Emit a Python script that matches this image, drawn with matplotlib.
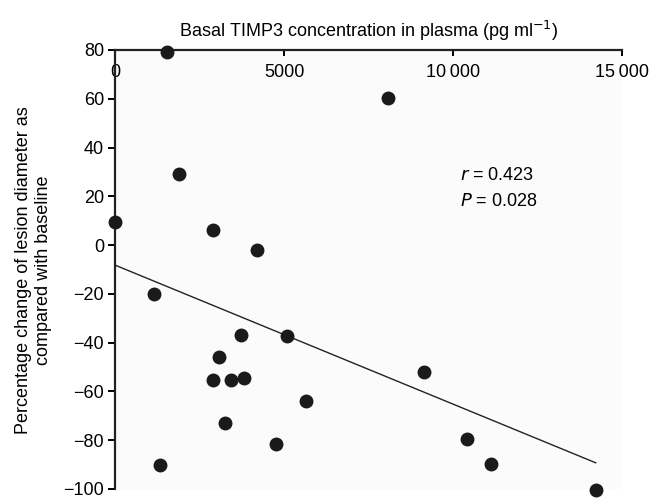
import numpy as np
import matplotlib
matplotlib.use("Agg")
import matplotlib.pyplot as plt

# basal TIMP3 (pg/ml) vs % change of lesion diameter
timp3 = [0, 1550, 1880, 2900, 4200, 1150, 1320, 3740, 5090, 3070,
         2900, 3420, 3820, 3250, 4770, 5660, 8080, 9140, 10400, 11120, 14220]
change = [9.5, 79, 29, 6, -2, -20, -90, -36.7, -37.4, -45.9,
          -55.3, -55.3, -54.6, -72.9, -81.7, -63.8, 60.3, -51.9, -79.4, -89.6, -100.4]

# regression line
fit_intercept = -8.2
fit_slope = -0.00570

x_ticks = [0, 5000, 10000, 15000]
x_ticklabels = ['0', '5000', '10\u2009000', '15\u2009000']
y_ticks = [80, 60, 40, 20, 0, -20, -40, -60, -80, -100]
y_ticklabels = ['80', '60', '40', '20', '0', '\u221220', '\u221240', '\u221260', '\u221280', '\u2212100']

plt.rcParams['font.family'] = ['Liberation Sans', 'DejaVu Sans']
fs = 13

fig = plt.figure(figsize=(6.51, 4.98), dpi=100)
ax = fig.add_axes([0.1767, 0.0181, 0.7788, 0.8815])
ax.set_facecolor('#fbfbfb')

ax.plot(timp3, change, 'o', color='#1a1a1a', markersize=9, clip_on=False, zorder=3)

xf = np.array([0, max(timp3)])
ax.plot(xf, fit_intercept + fit_slope * xf, color='#222222', lw=1.0)

ax.set_xlim(0, 15000)
ax.set_ylim(-100, 80)

for s in ['right', 'bottom']:
    ax.spines[s].set_visible(False)
for s in ['left', 'top']:
    ax.spines[s].set_linewidth(1.6)
    ax.spines[s].set_color('#222222')

ax.set_xticks(x_ticks)
ax.set_xticklabels(x_ticklabels)
ax.set_yticks(y_ticks)
ax.set_yticklabels(y_ticklabels)
ax.tick_params(axis='x', top=True, bottom=False, labeltop=True, labelbottom=False,
               direction='in', length=4, width=1.4, pad=-22, labelsize=fs)
ax.tick_params(axis='y', direction='out', length=5, width=1.4, pad=3, labelsize=fs)

ax.set_title('Basal TIMP3 concentration in plasma (pg ml$^{-1}$)', fontsize=fs, pad=9)
fig.text(0.052, 0.458, 'Percentage change of lesion diameter as\ncompared with baseline',
         rotation=90, ha='center', va='center', fontsize=fs, linespacing=1.25)

ax.text(10200, 28.7, '$\\it{r}$ = 0.423', fontsize=fs, va='center')
ax.text(10200, 18.0, '$\\it{P}$ = 0.028', fontsize=fs, va='center')

fig.savefig('out.png', dpi=100)
